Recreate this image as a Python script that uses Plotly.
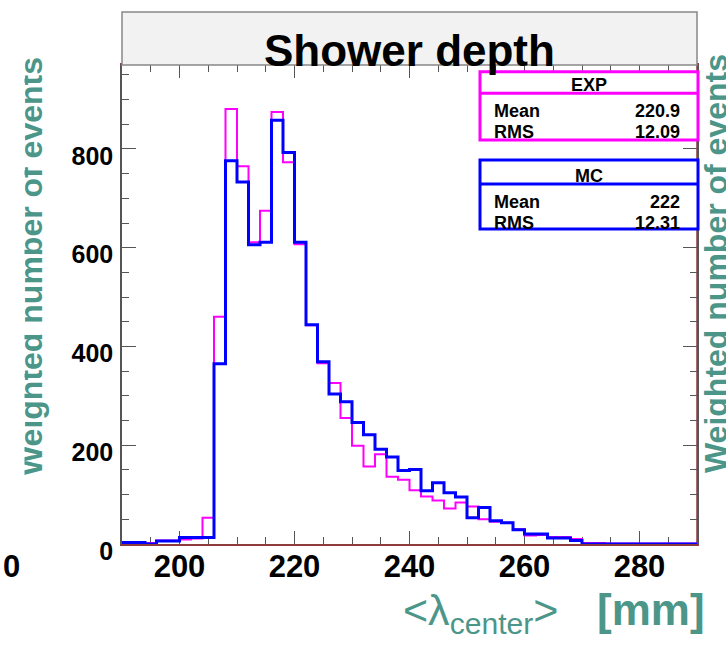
import numpy as np
import plotly.graph_objects as go

# ---------------- data ----------------
bin_low = 190.0
bin_width = 2.0
exp_counts = [1, 1, 2, 7, 7, 9, 11, 53, 460, 881,
              765, 611, 675, 875, 773, 607, 443, 366, 326, 255,
              199, 157, 182, 136, 130, 109, 96, 88, 72, 84,
              76, 50, 45, 43, 30, 17, 18, 14, 14, 10,
              2, 2, 1, 1, 1, 1, 1, 1, 1, 1]
mc_counts = [3, 3, 0, 6, 6, 13, 13, 13, 365, 776,
             733, 606, 611, 858, 793, 611, 444, 369, 304, 288,
             246, 221, 192, 176, 149, 151, 108, 124, 104, 95,
             53, 74, 47, 43, 29, 20, 20, 12, 12, 7,
             0, 0, 0, 0, 0, 0, 0, 0, 0, 0]
x_ticks = [200, 220, 240, 260, 280]
y_ticks = [0, 200, 400, 600, 800]
exp_stats = {"name": "EXP", "Mean": "220.9", "RMS": "12.09"}
mc_stats = {"name": "MC", "Mean": "222", "RMS": "12.31"}

edges = bin_low + bin_width * np.arange(len(exp_counts) + 1)

# ---------------- layout geometry ----------------
W_PX, H_PX = 726, 649
L, R, T, B = 122, 697, 65, 544
PW, PH = R - L, B - T


def px(x):
    return (x - L) / PW


def py(y):
    return (B - y) / PH


FONT = "Liberation Sans, Arial, Helvetica, sans-serif"
TEAL = "#4b9688"
MAG = "#ff00ff"
BLU = "#0000ff"
FRAME_RED = "#8e3b3b"


def step(counts):
    c = list(counts)
    return list(edges), c + [c[-1]]


fig = go.Figure()
xs, ys = step(exp_counts)
fig.add_trace(go.Scatter(x=xs, y=ys, mode="lines", line=dict(color=MAG, width=2, shape="hv"),
                         cliponaxis=False, showlegend=False, hoverinfo="skip"))
xs, ys = step(mc_counts)
fig.add_trace(go.Scatter(x=xs, y=ys, mode="lines", line=dict(color=BLU, width=3, shape="hv"),
                         cliponaxis=False, showlegend=False, hoverinfo="skip"))

shapes = []
# title box
shapes.append(dict(type="rect", xref="paper", yref="paper", x0=px(122), x1=px(697), y0=py(65), y1=py(12),
                   line=dict(color="#888888", width=1.5), fillcolor="#f2f2f2", layer="above"))
# right frame edge (reddish)
shapes.append(dict(type="line", xref="paper", yref="paper", x0=1, x1=1, y0=0, y1=1,
                   line=dict(color=FRAME_RED, width=1.5), layer="below"))

annotations = []
annotations.append(dict(text="<b>Shower depth</b>", xref="paper", yref="paper", x=px(409.5), y=py(50),
                        xanchor="center", yanchor="middle", showarrow=False,
                        font=dict(family=FONT, size=44, color="black")))


def stats_box(st, top, div, bot, color):
    shapes.append(dict(type="rect", xref="paper", yref="paper", x0=px(480), x1=px(698), y0=py(bot), y1=py(top),
                       line=dict(color=color, width=3), fillcolor="white", layer="above"))
    shapes.append(dict(type="line", xref="paper", yref="paper", x0=px(480), x1=px(698), y0=py(div), y1=py(div),
                       line=dict(color=color, width=3), layer="above"))
    f = dict(family=FONT, size=18, color="black")
    annotations.append(dict(text="<b>%s</b>" % st["name"], xref="paper", yref="paper", x=px(589),
                            y=py(div - 8), xanchor="center", yanchor="middle", showarrow=False, font=f))
    r1 = div + 17.5
    r2 = div + 38.5
    annotations.append(dict(text="<b>Mean</b>", xref="paper", yref="paper", x=px(492), y=py(r1),
                            xanchor="left", yanchor="middle", showarrow=False, font=f))
    annotations.append(dict(text="<b>%s</b>" % st["Mean"], xref="paper", yref="paper", x=px(682), y=py(r1),
                            xanchor="right", yanchor="middle", showarrow=False, font=f))
    annotations.append(dict(text="<b>RMS</b>", xref="paper", yref="paper", x=px(492), y=py(r2),
                            xanchor="left", yanchor="middle", showarrow=False, font=f))
    annotations.append(dict(text="<b>%s</b>" % st["RMS"], xref="paper", yref="paper", x=px(682), y=py(r2),
                            xanchor="right", yanchor="middle", showarrow=False, font=f))


stats_box(exp_stats, 71.7, 93.3, 140, MAG)
stats_box(mc_stats, 160, 184, 229, BLU)

# y-axis titles (left, partially clipped, and right, clipped by page edge)
ytitle = "<b>Weighted number of events</b>"
annotations.append(dict(text=ytitle, xref="paper", yref="paper", x=px(31), y=py(267), textangle=-90,
                        xanchor="center", yanchor="middle", showarrow=False,
                        font=dict(family=FONT, size=32, color=TEAL)))
# white mask to mimic the clipped left title
annotations.append(dict(text=" ", xref="paper", yref="paper", x=px(0), y=py(40), xanchor="left", yanchor="top",
                        width=21, height=460, bgcolor="white", showarrow=False))
annotations.append(dict(text=ytitle, xref="paper", yref="paper", x=px(716), y=py(264), textangle=-90,
                        xanchor="center", yanchor="middle", showarrow=False,
                        font=dict(family=FONT, size=32, color=TEAL)))
# x-axis title
annotations.append(dict(text="&lt;λ<sub>center</sub>&gt;", xref="paper", yref="paper", x=px(480), y=py(613),
                        xanchor="center", yanchor="middle", showarrow=False,
                        font=dict(family=FONT, size=43, color=TEAL)))
annotations.append(dict(text="<b>[mm]</b>", xref="paper", yref="paper", x=px(651), y=py(609),
                        xanchor="center", yanchor="middle", showarrow=False,
                        font=dict(family=FONT, size=44, color=TEAL)))
# stray clipped label at far left
annotations.append(dict(text="<b>0</b>", xref="paper", yref="paper", x=px(11), y=py(566),
                        xanchor="center", yanchor="middle", showarrow=False,
                        font=dict(family=FONT, size=31, color="black")))

fig.update_layout(
    width=W_PX, height=H_PX,
    margin=dict(l=L, r=W_PX - R, t=T, b=H_PX - B, pad=0),
    paper_bgcolor="white", plot_bgcolor="white",
    showlegend=False,
    shapes=shapes, annotations=annotations,
    xaxis=dict(range=[edges[0], edges[-1]], tickmode="array", tickvals=x_ticks,
               ticktext=[str(v) for v in x_ticks],
               ticks="inside", ticklen=13, tickwidth=1.2, tickcolor="#555555",
               minor=dict(dtick=5, ticks="inside", ticklen=7, tickcolor="#555555", tickwidth=1),
               showline=True, linecolor=FRAME_RED, linewidth=1.5, mirror="ticks",
               showgrid=False, zeroline=False, layer="below traces",
               tickfont=dict(family=FONT, size=31, color="black", weight="bold"),
               ticklabelstandoff=-6),
    yaxis=dict(range=[0, 970], tickmode="array", tickvals=y_ticks,
               ticktext=[str(v) for v in y_ticks],
               ticks="inside", ticklen=14, tickwidth=1.2, tickcolor="#555555",
               minor=dict(dtick=50, ticks="inside", ticklen=7, tickcolor="#555555", tickwidth=1),
               showline=True, linecolor="#555555", linewidth=1.5, mirror="ticks",
               showgrid=False, zeroline=False, layer="below traces",
               tickfont=dict(family=FONT, size=25, color="black", weight="bold"),
               ticklabelshift=7, ticklabelstandoff=2),
)

fig.write_html("out.html")
